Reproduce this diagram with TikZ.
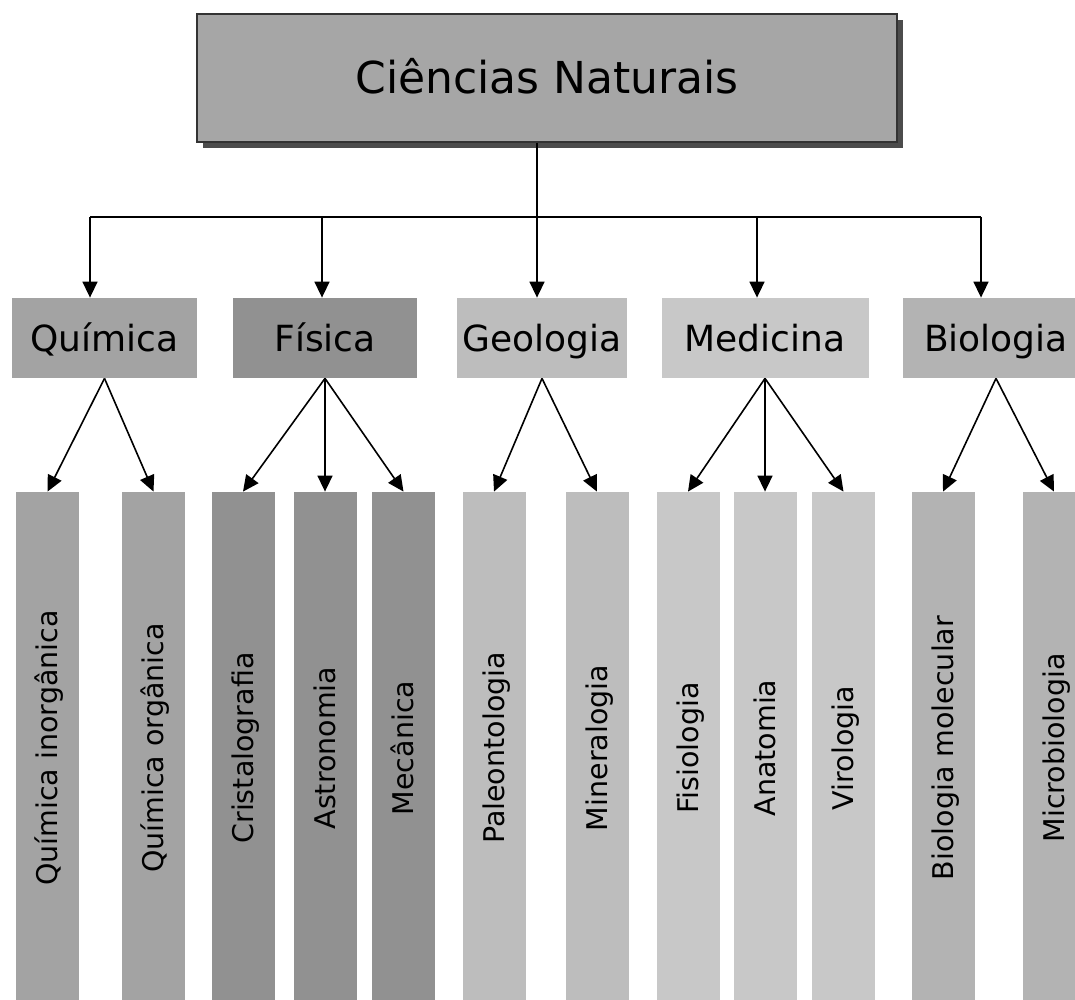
\documentclass[tikz,border=0pt]{standalone}
\usepackage{fontspec}
\setmainfont{DejaVu Sans}
\usetikzlibrary{positioning, shadows, arrows.meta}
\definecolor{grigiotit}{HTML}{A6A6A6}
\definecolor{grigioqui}{HTML}{A3A3A3}
\definecolor{grigiofis}{HTML}{919191}
\definecolor{grigiogeo}{HTML}{BDBDBD}
\definecolor{grigiomed}{HTML}{C8C8C8}
\definecolor{grigiobio}{HTML}{B3B3B3}
\tikzset{
    titolo/.style={draw=black!80, line width=1pt, fill=grigiotit, minimum width=350pt, minimum height=64pt,
        font=\fontsize{22}{26}\selectfont, text height=16pt, text depth=0pt,
        drop shadow={shadow xshift=3pt, shadow yshift=-3pt, fill=black!70, opacity=1}},
    ramo/.style={minimum height=40pt, inner sep=0pt, font=\fontsize{18}{22}\selectfont, text height=13.1pt, text depth=0pt},
    foglia/.style={rotate=90, minimum width=256pt, minimum height=31.5pt, inner sep=0pt,
        font=\fontsize{14.25}{17}\selectfont, text height=10.4pt, text depth=0pt},
    linea/.style={line width=0.8pt},
    freccia/.style={linea, -{Triangle[length=8pt, width=7.5pt]}},
}

\begin{document}
\begin{tikzpicture}[x=0.5pt, y=-0.5pt]
    \clip (0,0) rectangle (1075,1000);
    %riquadro principale
    \node[titolo] (tit) at (547,78) {Ciências Naturais};
    %rami
    \node[ramo, fill=grigioqui, minimum width=92.5pt] (qui) at (104.5,338) {Química};
    \node[ramo, fill=grigiofis, minimum width=92pt] (fis) at (325,338) {Física};
    \node[ramo, fill=grigiogeo, minimum width=85pt] (geo) at (542,338) {Geologia};
    \node[ramo, fill=grigiomed, minimum width=103.5pt] (med) at (765,338) {Medicina};
    \node[ramo, fill=grigiobio, minimum width=93pt] (bio) at (996,338) {Biologia};
    %foglie
    \node[foglia, fill=grigioqui] (ino) at (47.5,748) {Química inorgânica};
    \node[foglia, fill=grigioqui] (org) at (153.5,748) {Química orgânica};
    \node[foglia, fill=grigiofis] (cri) at (243,748) {Cristalografia};
    \node[foglia, fill=grigiofis] (ast) at (325,748) {Astronomia};
    \node[foglia, fill=grigiofis] (mec) at (403.5,748) {Mecânica};
    \node[foglia, fill=grigiogeo] (pal) at (494,748) {Paleontologia};
    \node[foglia, fill=grigiogeo] (min) at (597,748) {Mineralogia};
    \node[foglia, fill=grigiomed] (fisi) at (688,748) {Fisiologia};
    \node[foglia, fill=grigiomed] (ana) at (765,748) {Anatomia};
    \node[foglia, fill=grigiomed] (vir) at (843.5,748) {Virologia};
    \node[foglia, fill=grigiobio] (mol) at (943,748) {Biologia molecular};
    \node[foglia, fill=grigiobio] (mic) at (1054,748) {Microbiologia};
    %linea orizzontale
    \coordinate (b1) at (90,217);
    \coordinate (b2) at (322,217);
    \coordinate (b3) at (537,217);
    \coordinate (b4) at (757,217);
    \coordinate (b5) at (981,217);
    \draw[linea] (tit.south -| b3) -- (b3);
    \draw[linea] (b1) -- (b5);
    \draw[freccia] (b1) -- (b1 |- qui.north);
    \draw[freccia] (b2) -- (b2 |- fis.north);
    \draw[freccia] (b3) -- (b3 |- geo.north);
    \draw[freccia] (b4) -- (b4 |- med.north);
    \draw[freccia] (b5) -- (b5 |- bio.north);
    %frecce verso le foglie
    \draw[freccia] (qui.south) -- (ino.east);
    \draw[freccia] (qui.south) -- (org.east);
    \draw[freccia] (fis.south) -- (cri.east);
    \draw[freccia] (fis.south) -- (ast.east);
    \draw[freccia] (fis.south) -- (mec.east);
    \draw[freccia] (geo.south) -- (pal.east);
    \draw[freccia] (geo.south) -- (min.east);
    \draw[freccia] (med.south) -- (fisi.east);
    \draw[freccia] (med.south) -- (ana.east);
    \draw[freccia] (med.south) -- (vir.east);
    \draw[freccia] (bio.south) -- (mol.east);
    \draw[freccia] (bio.south) -- (mic.east);
\end{tikzpicture}
\end{document}
